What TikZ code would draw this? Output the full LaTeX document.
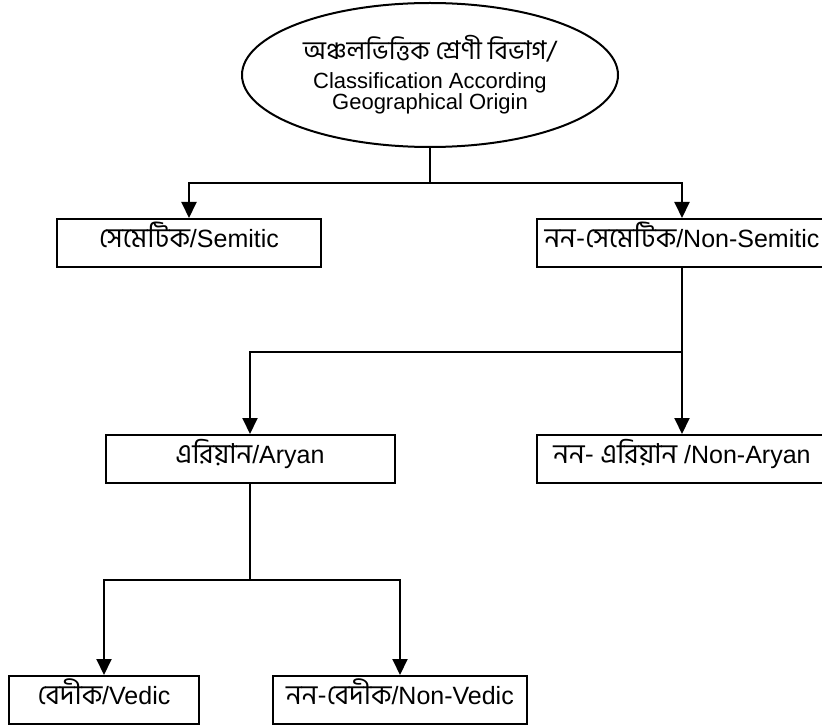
\documentclass[tikz,border=0pt]{standalone}
\usepackage{fontspec}
\setmainfont{Liberation Sans}
\newfontfamily\bn[Script=Bengali,Scale=1.1]{Hind Siliguri}
\usetikzlibrary{arrows.meta,shapes.geometric}
\tikzset{
  box/.style={draw,line width=2pt,minimum height=48pt,inner sep=0pt,text height=19pt,text depth=10pt,font=\fontsize{25}{28}\selectfont},
  arr/.style={-{Triangle[width=15pt,length=16pt]}},
}
\begin{document}
\begin{tikzpicture}[x=1pt,y=-1pt,line width=2pt]
        \useasboundingbox (0,0) rectangle (822,727);
        \clip (0,0) rectangle (822,727);

        \node[ellipse,draw,minimum width=376pt,minimum height=144pt,inner sep=0pt,align=center,font=\fontsize{22}{20.5}\selectfont] (root) at (430,75) {{\bn\fontsize{23.5}{24}\selectfont অঞ্চলভিত্তিক শ্রেণী বিভাগ/}\\[8pt] Classification According\\ Geographical Origin};

        \node[box,minimum width=264pt] (semitic)    at (189,243) {{\bn সেমেটিক}/Semitic};
        \node[box,minimum width=290pt] (nonsemitic) at (682,243) {{\bn নন-সেমেটিক}/Non-Semitic};

        \node[box,minimum width=289pt] (aryan)    at (250,459) {{\bn এরিয়ান}/Aryan};
        \node[box,minimum width=290pt] (nonaryan) at (682,459) {{\bn নন- এরিয়ান} /Non-Aryan};

        \node[box,minimum width=190pt] (vedic)    at (104,700) {{\bn বেদীক}/Vedic};
        \node[box,minimum width=254pt] (nonvedic) at (400,700) {{\bn নন-বেদীক}/Non-Vedic};

        \coordinate (j1) at (430,183);
        \coordinate (j2) at (682,352);
        \coordinate (j3) at (250,580);

        \draw (root) -- (j1);
        \draw[arr] (j1) -| (semitic.north);
        \draw[arr] (j1) -| (nonsemitic.north);

        \draw (nonsemitic) -- (j2);
        \draw[arr] (j2) -| (aryan.north);
        \draw[arr] (j2) -- (nonaryan.north);

        \draw (aryan) -- (j3);
        \draw[arr] (j3) -| (vedic.north);
        \draw[arr] (j3) -| (nonvedic.north);
    \end{tikzpicture}
\end{document}
